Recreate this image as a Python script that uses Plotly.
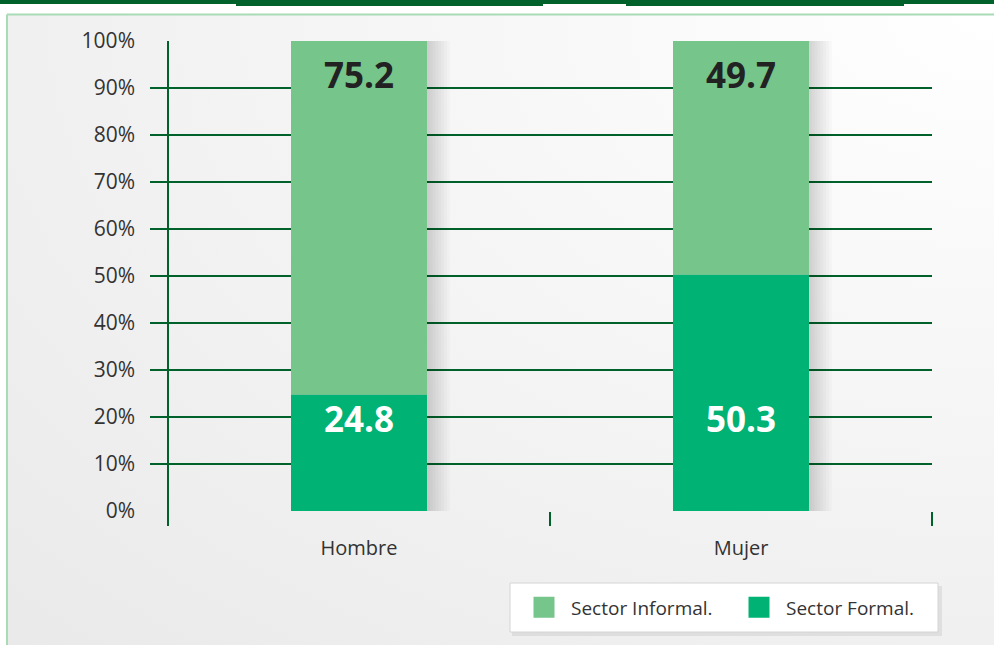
import plotly.graph_objects as go

categories = ["Hombre", "Mujer"]
formal = [24.8, 50.3]
informal = [75.2, 49.7]
series_names = ["Sector Informal.", "Sector Formal."]

COL_INFORMAL = "#76c58a"
COL_FORMAL = "#00b274"
DARK_GREEN = "#00612a"
LIGHT_GREEN = "#a9dbb5"
TEXT_COL = "#333333"
FONT = "Open Sans"
BAR_W = 0.356

W, H = 994, 645

totals = [f + i for f, i in zip(formal, informal)]

fig = go.Figure()

# background panel with a soft radial shading (brightest at top right)
fig.add_trace(
    go.Scatter(
        x=[-0.5, 2.5, 2.5, -0.5, -0.5],
        y=[-0.5, -0.5, 2.5, 2.5, -0.5],
        fill="toself",
        mode="none",
        fillgradient=dict(
            type="radial",
            colorscale=[[0, "#ffffff"], [0.35, "#f7f7f7"], [0.7, "#efefef"], [1, "#e8e8e8"]],
        ),
        hoverinfo="skip",
        showlegend=False,
        xaxis="x",
        yaxis="y",
    )
)

# soft drop shadow to the right of each column (layered thin bars fade it out)
for k in range(8, 0, -1):
    fig.add_trace(
        go.Bar(
            x=categories, y=totals, width=BAR_W + 0.0075 * k, offset=-BAR_W / 2,
            marker=dict(color="rgba(0,0,0,0.018)", line_width=0),
            showlegend=False, xaxis="x2", yaxis="y2", hoverinfo="skip",
        )
    )

# stacked bars
fig.add_trace(
    go.Bar(
        x=categories, y=formal, marker=dict(color=COL_FORMAL, line_width=0), width=BAR_W,
        showlegend=False, xaxis="x2", yaxis="y2", hoverinfo="skip",
    )
)
fig.add_trace(
    go.Bar(
        x=categories, y=informal, base=formal, marker=dict(color=COL_INFORMAL, line_width=0),
        width=BAR_W, showlegend=False, xaxis="x2", yaxis="y2", hoverinfo="skip",
    )
)

# legend entries (bigger swatches than the bar legend gives)
for name, col in zip(series_names, [COL_INFORMAL, COL_FORMAL]):
    fig.add_trace(
        go.Scatter(
            x=[None], y=[None], mode="markers", name=name,
            marker=dict(symbol="square", size=16, color=col, line=dict(color=col, width=6)),
            xaxis="x2", yaxis="y2",
        )
    )

# value labels: formal ones sit on a common line, informal ones under the 100% top
label_base = min(formal)
for cat, f, t, i in zip(categories, formal, totals, informal):
    fig.add_annotation(
        x=cat, y=label_base, xref="x2", yref="y2", text=f"<b>{f}</b>", showarrow=False,
        yanchor="middle", yshift=-24, font=dict(family=FONT, size=35, color="white"),
    )
    fig.add_annotation(
        x=cat, y=t, xref="x2", yref="y2", text=f"<b>{i}</b>", showarrow=False,
        yanchor="middle", yshift=-34, font=dict(family=FONT, size=35, color="#222222"),
    )

shapes = [
    # top page band
    dict(type="rect", xref="paper", yref="paper", x0=0, x1=1, y0=1 - 4 / H, y1=1,
         fillcolor=DARK_GREEN, line_width=0, layer="above"),
    dict(type="rect", xref="paper", yref="paper", x0=236 / W, x1=543 / W, y0=1 - 6 / H, y1=1,
         fillcolor=DARK_GREEN, line_width=0, layer="above"),
    dict(type="rect", xref="paper", yref="paper", x0=626 / W, x1=904 / W, y0=1 - 6 / H, y1=1,
         fillcolor=DARK_GREEN, line_width=0, layer="above"),
    # light frame
    dict(type="line", xref="paper", yref="paper", x0=7 / W, x1=1, y0=1 - 14.5 / H, y1=1 - 14.5 / H,
         line=dict(color=LIGHT_GREEN, width=2), layer="above"),
    dict(type="line", xref="paper", yref="paper", x0=7 / W, x1=7 / W, y0=0, y1=1 - 14.5 / H,
         line=dict(color=LIGHT_GREEN, width=2), layer="above"),
    # vertical value axis line
    dict(type="line", xref="x2", yref="y2 domain", x0=-0.5, x1=-0.5, y0=-0.03, y1=1,
         line=dict(color=DARK_GREEN, width=2), layer="above"),
    # legend box with a soft shadow
    dict(type="rect", xref="paper", yref="paper", x0=512 / W, x1=942 / W, y0=1 - 636 / H, y1=1 - 586 / H,
         fillcolor="rgba(0,0,0,0.07)", line_width=0, layer="above"),
    dict(type="rect", xref="paper", yref="paper", x0=510 / W, x1=938 / W, y0=1 - 632 / H, y1=1 - 583 / H,
         fillcolor="white", line=dict(color="#d4d4d4", width=1), layer="above"),
]

fig.update_layout(
    width=W,
    height=H,
    margin=dict(l=0, r=0, t=0, b=0, autoexpand=False),
    paper_bgcolor="white",
    plot_bgcolor="rgba(0,0,0,0)",
    font=dict(family=FONT, color=TEXT_COL),
    barmode="overlay",
    shapes=shapes,
    xaxis=dict(domain=[7 / W, 1], range=[0, 1], visible=False, fixedrange=True),
    yaxis=dict(domain=[0, 1 - 15 / H], range=[0, 1], visible=False, fixedrange=True),
    xaxis2=dict(
        domain=[150 / W, 932 / W],
        range=[-0.5 - 18 / 382, 1.5],
        anchor="y2",
        showgrid=False,
        showline=False,
        zeroline=False,
        ticks="outside",
        tickson="boundaries",
        ticklen=14,
        tickwidth=2,
        tickcolor=DARK_GREEN,
        tickfont=dict(size=20, color=TEXT_COL),
        ticklabelstandoff=23,
    ),
    yaxis2=dict(
        domain=[1 - 511 / H, 1 - 41 / H],
        range=[0, 100],
        anchor="x2",
        tickmode="linear",
        tick0=0,
        dtick=10,
        ticksuffix="%",
        showgrid=True,
        gridcolor=DARK_GREEN,
        gridwidth=2,
        zeroline=False,
        showline=False,
        ticks="",
        tickfont=dict(size=21, color=TEXT_COL),
        ticklabelstandoff=14,
    ),
    legend=dict(
        orientation="h",
        traceorder="normal",
        x=512 / W,
        y=1 - 607.5 / H,
        xanchor="left",
        yanchor="middle",
        xref="paper",
        yref="paper",
        bgcolor="rgba(0,0,0,0)",
        borderwidth=0,
        font=dict(size=19, color=TEXT_COL),
        itemwidth=44,
        entrywidth=151,
        indentation=5,
    ),
)

# drop the default page margin so the figure sits at the window origin
fig.write_html(
    "out.html",
    config={"displayModeBar": False},
    post_script="document.body.style.margin='0';",
)
